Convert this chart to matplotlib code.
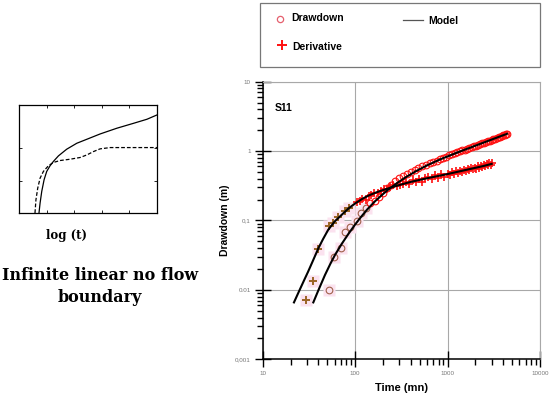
import numpy as np
import matplotlib
matplotlib.use("Agg")
import matplotlib.pyplot as plt
from matplotlib.lines import Line2D, TICKDOWN, TICKLEFT
from matplotlib.patches import Rectangle
from matplotlib.ticker import FixedLocator, FixedFormatter, NullFormatter, NullLocator

# ---------------- data ----------------
# Inset schematic (normalised coordinates)
inset_solid_x = [0.145, 0.153, 0.165, 0.182, 0.201, 0.225, 0.249, 0.286, 0.346, 0.419, 0.492,
                 0.588, 0.709, 0.831, 0.927, 1.000]
inset_solid_y = [0.000, 0.092, 0.200, 0.308, 0.385, 0.437, 0.477, 0.529, 0.591, 0.646, 0.683,
                 0.732, 0.785, 0.831, 0.868, 0.908]
inset_dash_x = [0.116, 0.123, 0.136, 0.153, 0.177, 0.213, 0.249, 0.298, 0.370, 0.443, 0.492,
                0.540, 0.588, 0.661, 1.000]
inset_dash_y = [0.000, 0.123, 0.231, 0.323, 0.385, 0.437, 0.468, 0.486, 0.498, 0.514, 0.538,
                0.569, 0.594, 0.606, 0.606]

# Model curves
model_dd_t = [35.3, 40, 47.2, 54, 60.5, 72, 84.4, 100, 113, 135, 165, 200, 230, 280, 350, 450,
              600, 828, 1000, 1400, 2000, 3000, 4400]
model_dd_s = [0.0066, 0.00984, 0.0164, 0.0238, 0.0318, 0.0465, 0.0638, 0.0875, 0.108, 0.144,
              0.1905, 0.240, 0.281, 0.341, 0.417, 0.509, 0.623, 0.757, 0.839, 1.0, 1.196, 1.466,
              1.775]
model_der_t = [21.8, 25, 28, 31, 35, 40, 45, 51, 60, 72, 85, 100, 120, 140, 170, 210, 250, 300,
               370, 450, 550, 650, 828, 1000, 1250, 1500, 2000, 2500, 3000]
model_der_s = [0.0066, 0.00986, 0.01368, 0.0183, 0.0264, 0.0397, 0.054, 0.073, 0.0967, 0.1216,
               0.1496, 0.176, 0.2056, 0.229, 0.2545, 0.28, 0.301, 0.324, 0.35, 0.373, 0.396,
               0.415, 0.443, 0.467, 0.499, 0.527, 0.574, 0.614, 0.655]

# Observed drawdown (early, brown) and (late, red)
dd_early_t = [52.5, 59.6, 69.8, 77.6, 87.9, 104, 116, 131]
dd_early_s = [0.0100, 0.0295, 0.0400, 0.069, 0.0798, 0.0993, 0.127, 0.150]
dd_late_t = [145, 165, 180, 200, 220, 245, 270, 300, 330, 360, 400, 440, 480, 530, 580, 640, 700,
             760, 830, 900, 970, 1040, 1110, 1190, 1270, 1350, 1440, 1530, 1620, 1720, 1820, 1920,
             2030, 2140, 2250, 2370, 2490, 2610, 2740, 2870, 3000, 3140, 3280, 3420, 3570, 3720,
             3870, 4020, 4170, 4320, 4400]
dd_late_s = [0.177, 0.19, 0.215, 0.25, 0.29, 0.33, 0.37, 0.41, 0.44, 0.46, 0.50, 0.53, 0.57, 0.61,
             0.63, 0.67, 0.70, 0.72, 0.76, 0.79, 0.83, 0.87, 0.90, 0.93, 0.96, 1.00, 1.03, 1.05,
             1.08, 1.11, 1.14, 1.17, 1.20, 1.23, 1.26, 1.29, 1.32, 1.35, 1.38, 1.41, 1.45, 1.48,
             1.51, 1.54, 1.57, 1.61, 1.65, 1.69, 1.72, 1.76, 1.78]

# Derivative (early, brown) and (late, red)
der_early_t = [29.4, 34.8, 40, 52.5, 57.1, 65.8, 77.6, 86.5]
der_early_s = [0.00714, 0.0136, 0.0393, 0.0834, 0.093, 0.111, 0.138, 0.150]
der_late_t = [104, 112, 120, 130, 140, 150, 162, 175, 190, 205, 222, 240, 260, 282, 305, 330, 357,
              387, 419, 453, 490, 530, 575, 622, 673, 729, 789, 854, 925, 1000, 1060, 1120, 1180,
              1240, 1300, 1370, 1440, 1510, 1580, 1650, 1720, 1800, 1880, 1960, 2040, 2120, 2200,
              2290, 2380, 2470, 2560, 2650, 2740, 2830, 2920, 3000]
der_late_s = [0.185, 0.19, 0.205, 0.20, 0.225, 0.235, 0.25, 0.25, 0.27, 0.285, 0.28, 0.30, 0.32,
              0.31, 0.33, 0.34, 0.36, 0.34, 0.38, 0.36, 0.40, 0.36, 0.41, 0.43, 0.39, 0.45, 0.41,
              0.46, 0.43, 0.47, 0.45, 0.50, 0.47, 0.51, 0.48, 0.52, 0.50, 0.54, 0.51, 0.55, 0.53,
              0.57, 0.55, 0.58, 0.56, 0.60, 0.58, 0.62, 0.59, 0.64, 0.61, 0.66, 0.63, 0.67, 0.64, 0.67]

x_ticks = [10, 100, 1000, 10000]
x_tick_labels = ["10", "100", "1000", "10000"]
y_ticks = [0.001, 0.01, 0.1, 1, 10]
y_tick_labels = ["0,001", "0.01", "0,1", "1", "10"]

# ---------------- figure ----------------
fig = plt.figure(figsize=(5.5, 3.96), dpi=100)
fig.patch.set_facecolor("white")

# ----- main log-log plot -----
ax = fig.add_axes([0.4776, 0.0927, 0.5042, 0.701])
ax.set_xscale("log")
ax.set_yscale("log")
ax.set_xlim(10, 10000)
ax.set_ylim(0.001, 10)

ax.grid(True, which="major", color="#a8a8a8", lw=0.8)
ax.set_axisbelow(True)

pink = "#fbe2ef"
brown_p = "#9a6424"
brown_c = "#a0604a"
red = "#ff1010"

# pale highlight squares behind early points
ax.plot(der_early_t, der_early_s, ls="none", marker="s", ms=8, mfc=pink, mec="none", zorder=1.5)
ax.plot(dd_early_t, dd_early_s, ls="none", marker="s", ms=8, mfc=pink, mec="none", zorder=1.5)

ax.plot(dd_early_t, dd_early_s, ls="none", marker="o", ms=4.8, mfc="none", mec=brown_c, mew=0.8, zorder=3)
ax.plot(dd_late_t, dd_late_s, ls="none", marker="o", ms=4.8, mfc="none", mec=red, mew=0.8, zorder=3)
ax.plot(der_early_t, der_early_s, ls="none", marker="+", ms=6, mec=brown_p, mew=1.4, zorder=3)
ax.plot(der_late_t, der_late_s, ls="none", marker="+", ms=6, mec=red, mew=1.2, zorder=3)

ax.plot(model_dd_t, model_dd_s, color="black", lw=1.5, zorder=4)
ax.plot(model_der_t, model_der_s, color="black", lw=1.5, zorder=4)

ax.xaxis.set_major_locator(FixedLocator(x_ticks))
ax.xaxis.set_major_formatter(FixedFormatter(x_tick_labels))
ax.yaxis.set_major_locator(FixedLocator(y_ticks))
ax.yaxis.set_major_formatter(FixedFormatter(y_tick_labels))
ax.xaxis.set_minor_locator(NullLocator())
ax.yaxis.set_minor_locator(NullLocator())
ax.tick_params(which="major", direction="inout", length=11, width=1.0, labelsize=4.5,
               labelcolor="#777777", pad=3, color="black")

# minor tick marks drawn as axis-anchored tick markers (outward)
minor_x = [m * 10.0 ** e for e in range(1, 4) for m in range(2, 10)]
minor_y = [m * 10.0 ** e for e in range(-3, 1) for m in range(2, 10)]
ax.plot(minor_x, [0] * len(minor_x), transform=ax.get_xaxis_transform(), ls="none",
        marker=TICKDOWN, ms=4.3, mew=1.0, color="black", clip_on=False, zorder=5)
ax.plot([0] * len(minor_y), minor_y, transform=ax.get_yaxis_transform(), ls="none",
        marker=TICKLEFT, ms=4.3, mew=1.0, color="black", clip_on=False, zorder=5)

for lab in ax.get_xticklabels() + ax.get_yticklabels():
    lab.set_family("Liberation Sans")

for side in ("left", "bottom"):
    ax.spines[side].set_linewidth(1.1)
    ax.spines[side].set_color("black")
for side in ("top", "right"):
    ax.spines[side].set_linewidth(0.8)
    ax.spines[side].set_color("#a8a8a8")

ax.set_xlabel("Time (mn)", family="Liberation Sans", weight="bold", fontsize=8, labelpad=5)
ax.set_ylabel("Drawdown (m)", family="Liberation Sans", weight="bold", fontsize=7.5, labelpad=4)
ax.text(0.045, 0.905, "S11", transform=ax.transAxes, family="Liberation Sans", weight="bold",
        fontsize=7.5, ha="left", va="center")

# ----- inset schematic -----
ax_in = fig.add_axes([0.0345, 0.4621, 0.2509, 0.2727])
ax_in.plot(inset_solid_x, inset_solid_y, color="black", lw=0.9)
ax_in.plot(inset_dash_x, inset_dash_y, color="black", lw=0.9, ls=(0, (3, 1.6)))
ax_in.set_xlim(0, 1)
ax_in.set_ylim(0, 1)
ax_in.set_xticks([0.2, 0.4, 0.6, 0.8])
ax_in.set_yticks([0.3, 0.6])
ax_in.tick_params(direction="in", length=2, width=0.6, top=True, right=True,
                  labelbottom=False, labelleft=False)
for sp in ax_in.spines.values():
    sp.set_linewidth(0.9)

serif = ["DejaVu Serif"]
fig.text(67 / 550, 1 - 235 / 396, "log (t)", family=serif, weight="bold", fontsize=8.5,
         ha="center", va="center")
fig.text(100 / 550, 1 - 275 / 396, "Infinite linear no flow", family=serif, weight="bold",
         fontsize=11.5, ha="center", va="center")
fig.text(100 / 550, 1 - 297 / 396, "boundary", family=serif, weight="bold",
         fontsize=11.5, ha="center", va="center")

# ----- legend box -----
fig.add_artist(Rectangle((260 / 550, 1 - 67 / 396), 280 / 550, 64 / 396, transform=fig.transFigure,
                         fill=False, edgecolor="#777777", lw=0.9))
fig.add_artist(Line2D([280 / 550], [1 - 19 / 396], transform=fig.transFigure, ls="none",
                      marker="o", ms=4.5, mfc="none", mec="#e5606e", mew=0.9))
fig.text(291 / 550, 1 - 18 / 396, "Drawdown", family="Liberation Sans", weight="bold",
         fontsize=7.5, ha="left", va="center")
fig.add_artist(Line2D([403 / 550, 423 / 550], [1 - 20 / 396, 1 - 20 / 396],
                      transform=fig.transFigure, color="#555555", lw=0.9))
fig.text(428 / 550, 1 - 20.5 / 396, "Model", family="Liberation Sans", weight="bold",
         fontsize=7.5, ha="left", va="center")
fig.add_artist(Line2D([282 / 550], [1 - 45 / 396], transform=fig.transFigure, ls="none",
                      marker="+", ms=7, mec=red, mew=1.4))
fig.text(292 / 550, 1 - 46.5 / 396, "Derivative", family="Liberation Sans", weight="bold",
         fontsize=7.5, ha="left", va="center")

fig.savefig("out.png", dpi=100)
